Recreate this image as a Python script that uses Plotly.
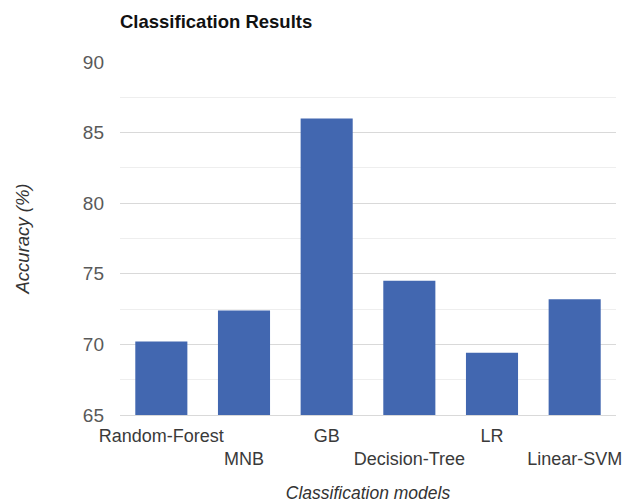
import plotly.graph_objects as go

models = ["Random-Forest", "MNB", "GB", "Decision-Tree", "LR", "Linear-SVM"]
accuracy = [70.2, 72.4, 86.0, 74.5, 69.4, 73.2]
tick_labels = ["Random-Forest", "<br>MNB", "GB", "<br>Decision-Tree", "LR", "<br>Linear-SVM"]
y_ticks = [65, 70, 75, 80, 85, 90]

W, H = 633, 496  # page shows figure offset by 8px body margin

fig = go.Figure(go.Bar(x=models, y=accuracy, marker=dict(color="#4267B0", line=dict(width=0))))

fig.update_layout(
    width=W, height=H,
    margin=dict(l=112, r=25, t=54, b=89, autoexpand=False),
    paper_bgcolor="white", plot_bgcolor="white",
    bargap=0.37,
    showlegend=False,
    font=dict(family="Liberation Sans, Arial", color="#595959", size=16),
    title=dict(text="<b>Classification Results</b>", x=112/W, xanchor="left",
               yref="container", y=1 - 14/H, yanchor="middle",
               font=dict(size=18.5, color="#111111")),
)
fig.update_xaxes(
    tickmode="array", tickvals=models, ticktext=tick_labels, tickangle=0,
    showline=True, linecolor="#d9d9d9", linewidth=1, ticks="", ticklabelstandoff=4,
    tickfont=dict(size=18, color="#3a3a3a"), automargin=False,
    title=dict(text="<i>Classification models</i>", font=dict(size=17.5, color="#333333"), standoff=18),
)
fig.update_yaxes(
    range=[65, 90], tickvals=y_ticks, showgrid=True, gridcolor="#d9d9d9", gridwidth=1,
    minor=dict(dtick=2.5, showgrid=True, gridcolor="#eeeeee"),
    zeroline=False, ticks="", ticklabelstandoff=15, automargin=False,
    tickfont=dict(size=19, color="#595959"),
    title=dict(text="<i>Accuracy (%)</i>", font=dict(size=18.5, color="#333333"), standoff=48),
)

fig.write_html("out.html")
